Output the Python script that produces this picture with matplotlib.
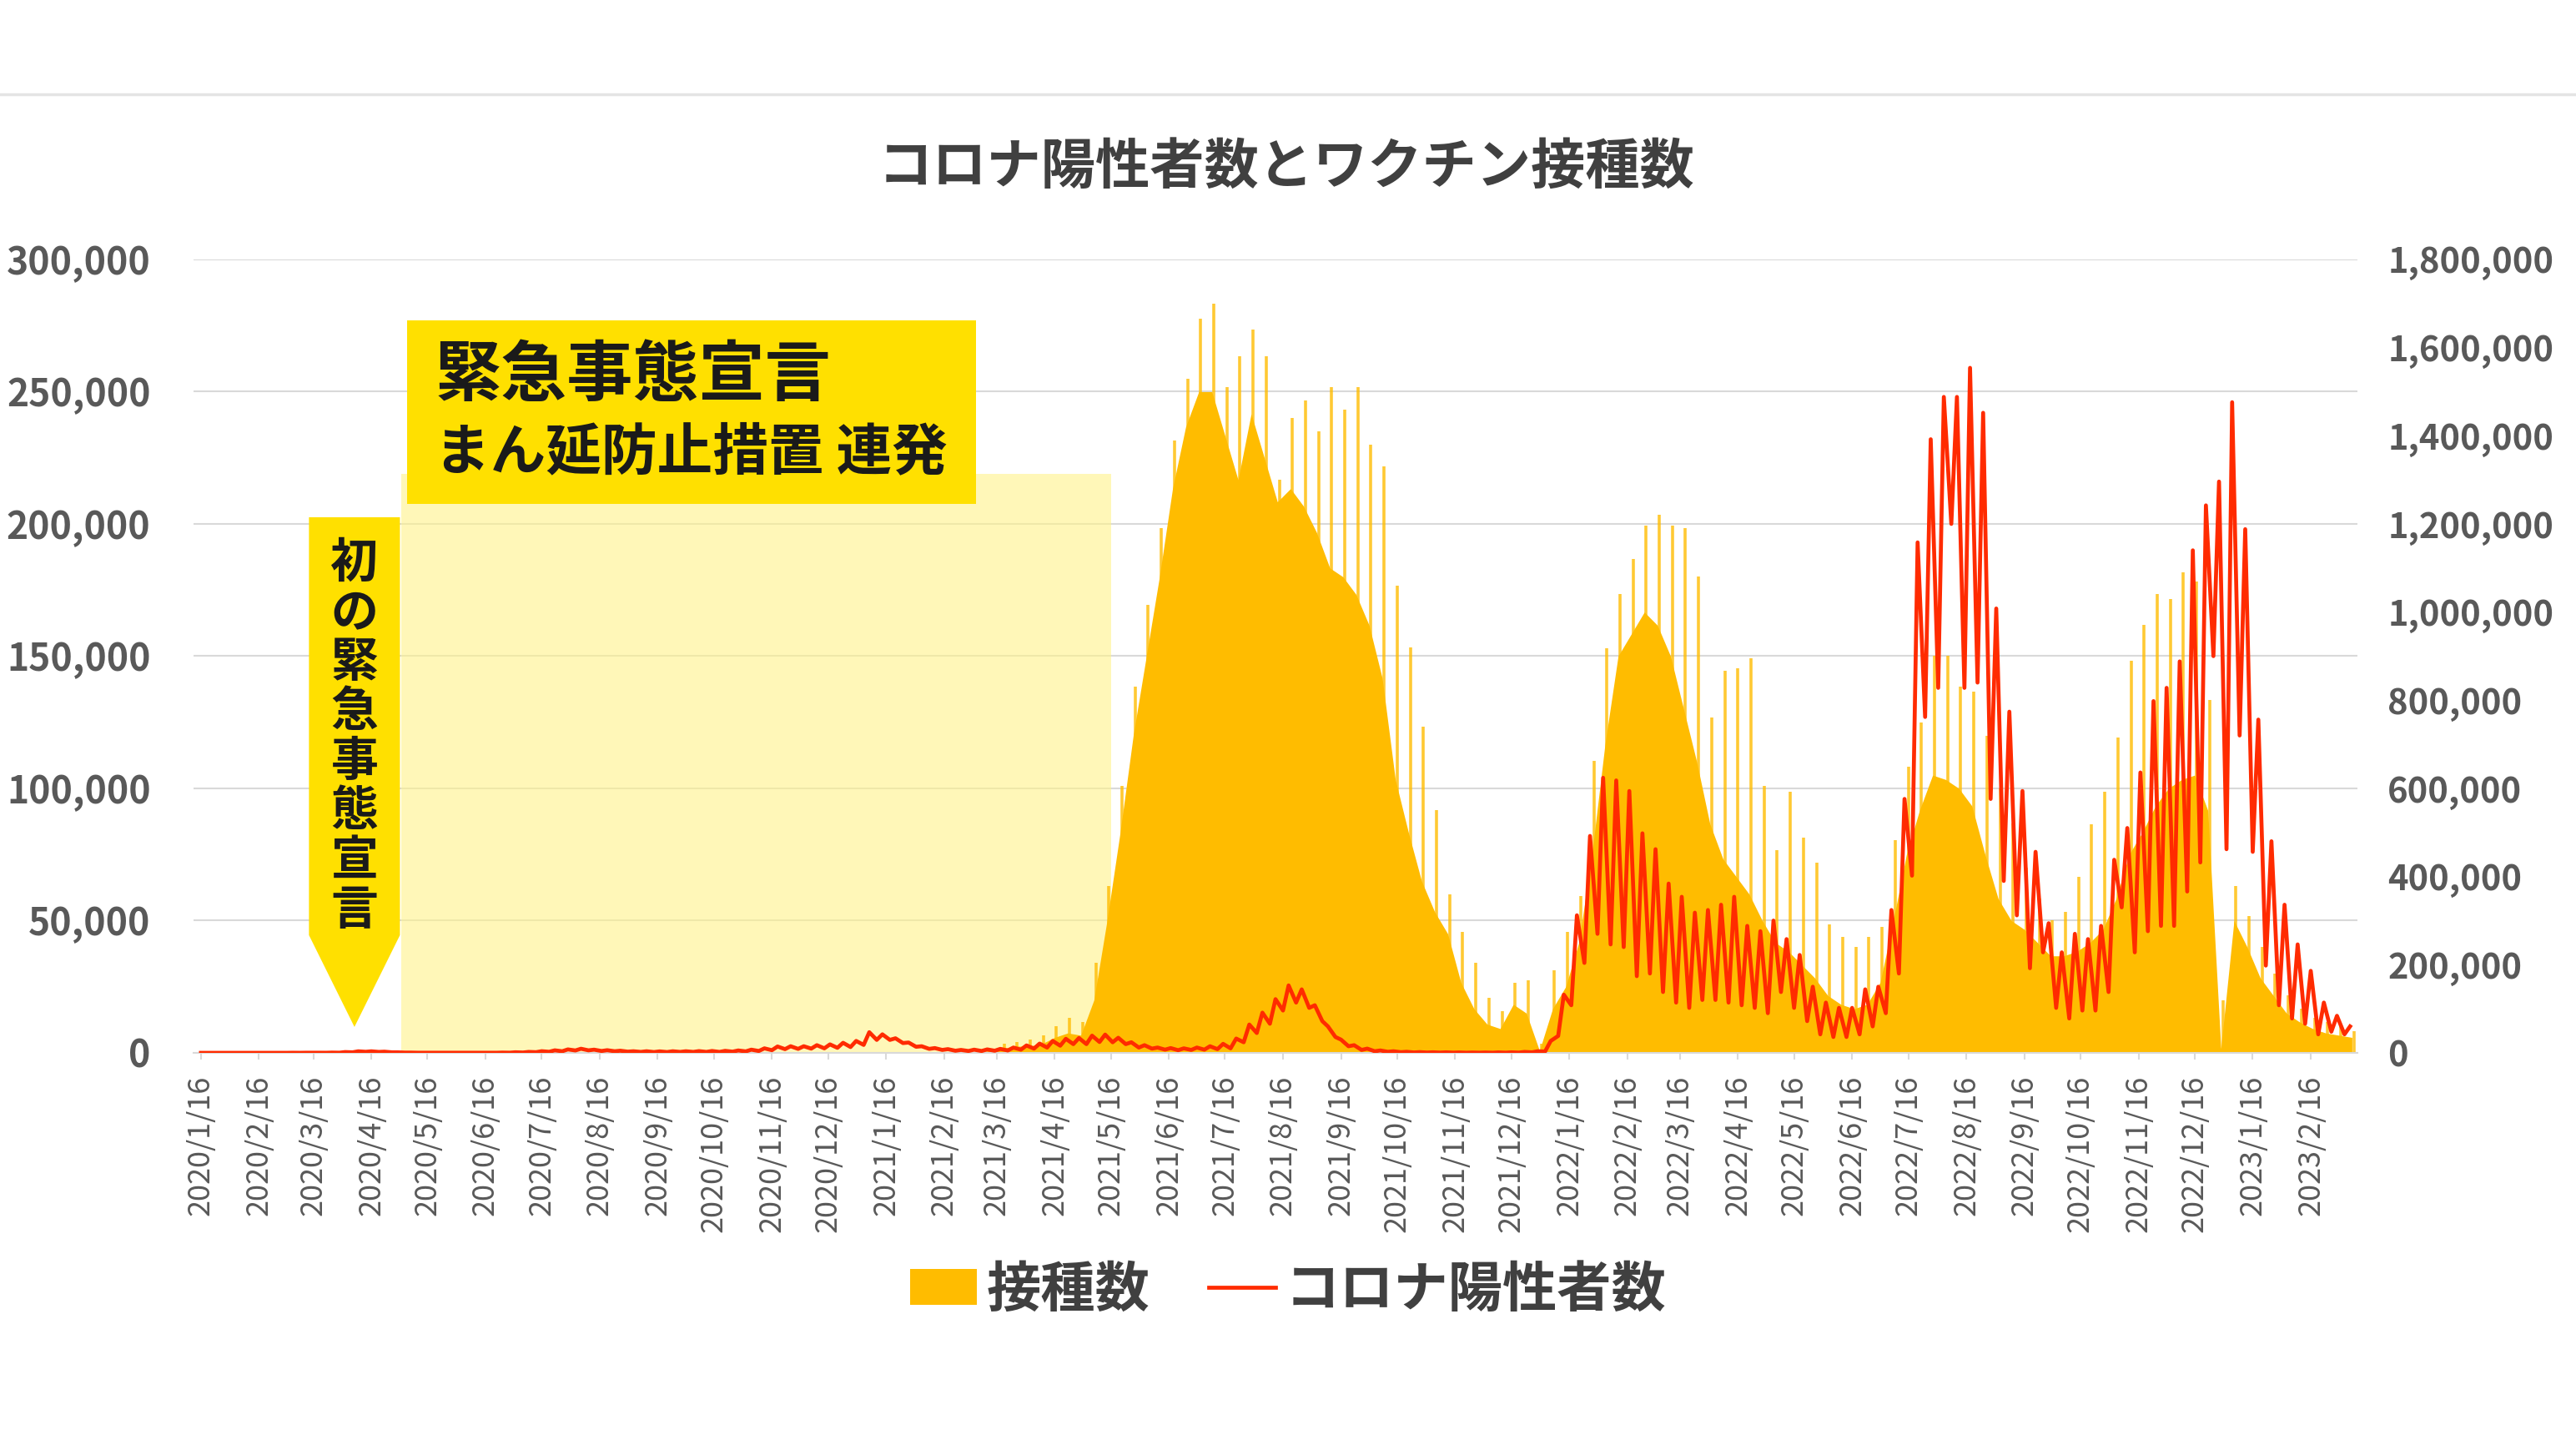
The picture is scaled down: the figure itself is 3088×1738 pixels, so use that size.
import numpy as np
import pandas as pd
import matplotlib
matplotlib.use("Agg")
import matplotlib.pyplot as plt
from matplotlib.patches import Rectangle, Polygon, Patch
from matplotlib.lines import Line2D

plt.rcParams['font.family'] = ['Noto Sans CJK JP', 'DejaVu Sans']

# ---------------------------------------------------------------- data
START = pd.Timestamp('2020-01-16')   # first day of the series (Thursday)

# new positive cases per day, in thousands: weekly high (Thu) and weekly low (Mon)
cases_hi_k = [
    0, 0, 0, 0.01, 0.01, 0.02, 0.03, 0.04, 0.05, 0.05,
    0.1, 0.3, 0.58, 0.58, 0.44, 0.2, 0.1, 0.05, 0.03, 0.04,
    0.045, 0.055, 0.06, 0.1, 0.22, 0.35, 0.62, 0.95, 1.3, 1.55,
    1.2, 1.0, 0.8, 0.6, 0.6, 0.55, 0.6, 0.6, 0.65, 0.7,
    0.75, 0.9, 1.2, 1.7, 2.4, 2.5, 2.5, 2.9, 3.2, 3.8,
    4.5, 7.8, 7.0, 5.5, 3.9, 2.5, 1.8, 1.4, 1.1, 1.2,
    1.3, 1.5, 2.0, 2.8, 3.5, 4.5, 5.3, 5.6, 6.5, 6.9,
    5.7, 4.0, 2.9, 2.0, 1.8, 1.7, 2.0, 2.5, 3.4, 5.4,
    10.7, 15.2, 20.3, 25.5, 24.0, 18.0, 10.0, 5.0, 2.9, 1.6,
    0.9, 0.6, 0.4, 0.28, 0.22, 0.2, 0.15, 0.12, 0.13, 0.17,
    0.2, 0.35, 0.6, 4.5, 22, 52, 82, 104, 103, 99,
    83, 77, 64, 59, 53, 54, 56, 59, 48, 46,
    50, 43, 37, 25, 19, 17, 17, 24, 25, 54,
    96, 193, 232, 248, 248, 259, 242, 168, 129, 99,
    76, 49, 38, 45, 43, 48, 73, 85, 106, 133,
    138, 148, 190, 207, 216, 246, 198, 126, 80, 56,
    41, 31, 19, 14, 10,
]
cases_lo_k = [
    0, 0, 0, 0, 0.005, 0.01, 0.01, 0.02, 0.03, 0.04,
    0.06, 0.2, 0.4, 0.35, 0.2, 0.1, 0.05, 0.02, 0.015, 0.02,
    0.03, 0.04, 0.04, 0.06, 0.12, 0.25, 0.4, 0.6, 0.9, 0.95,
    0.7, 0.6, 0.45, 0.35, 0.3, 0.3, 0.35, 0.35, 0.35, 0.35,
    0.45, 0.55, 0.7, 1.0, 1.4, 1.5, 1.6, 1.7, 1.9, 2.2,
    3.0, 4.9, 4.9, 3.7, 2.3, 1.5, 1.1, 0.8, 0.7, 0.7,
    0.8, 0.9, 1.2, 1.6, 2.0, 2.7, 3.3, 3.3, 4.1, 4.0,
    3.3, 2.0, 1.6, 1.2, 1.0, 1.1, 1.2, 1.4, 1.7, 4.0,
    7.5, 11.0, 16.0, 19.0, 17.0, 12.0, 6.0, 2.5, 1.1, 0.6,
    0.4, 0.25, 0.15, 0.12, 0.1, 0.08, 0.05, 0.06, 0.05, 0.07,
    0.1, 0.2, 0.5, 6.4, 18, 34, 45, 41, 40, 29,
    30, 23, 19, 17, 20, 20, 19, 18, 17, 15,
    23, 17, 12, 7, 6, 6, 7, 10, 15, 30,
    67, 127, 138, 200, 138, 140, 96, 65, 52, 32,
    38, 17, 13, 16, 16, 23, 55, 38, 46, 48,
    48, 61, 72, 150, 77, 120, 76, 33, 18, 13,
    11, 7, 8, 7,
]

# vaccinations per day, in thousands, weekly from 2021/3/4:
# the dense weekday level and the one-day spike of that week
VAX_START = pd.Timestamp('2021-03-04')
vax_body_k = [
    0, 5, 10, 15, 15, 20, 35, 45, 40, 120,
    300, 500, 720, 900, 1080, 1280, 1420, 1500, 1500, 1400,
    1300, 1450, 1350, 1250, 1280, 1240, 1180, 1100, 1080, 1040,
    970, 850, 620, 500, 390, 320, 270, 160, 100, 65,
    55, 110, 90, 5, 100, 150, 250, 450, 700, 900,
    950, 1000, 970, 900, 780, 660, 520, 440, 400, 360,
    300, 250, 230, 200, 170, 130, 110, 100, 110, 160,
    300, 450, 550, 630, 620, 600, 560, 450, 350, 300,
    280, 250, 220, 220, 230, 250, 280, 350, 450, 500,
    560, 600, 620, 630, 550, 10, 300, 240, 170, 130,
    90, 70, 55, 45, 40, 35,
]
vax_spike_k = [
    0, 10, 20, 25, 30, 40, 60, 80, 70, 205,
    379, 605, 831, 1016, 1190, 1390, 1530, 1665, 1700, 1510,
    1580, 1640, 1580, 1300, 1440, 1480, 1410, 1510, 1460, 1510,
    1380, 1330, 1060, 920, 740, 550, 360, 275, 205, 124,
    95, 159, 165, 20, 188, 275, 356, 663, 918, 1040,
    1120, 1196, 1220, 1196, 1190, 1080, 760, 866, 872, 895,
    605, 460, 593, 489, 431, 292, 263, 240, 263, 286,
    483, 650, 750, 900, 900, 830, 820, 720, 600, 520,
    420, 350, 300, 320, 400, 518, 593, 715, 890, 970,
    1040, 1030, 1090, 1070, 800, 120, 379, 310, 240, 180,
    130, 100, 80, 70, 60, 50,
]

# annotation dates
FIRST_DECL = pd.Timestamp('2020-04-07')
BAND_START = pd.Timestamp('2020-05-02')
BAND_END = pd.Timestamp('2021-05-16')

TITLE = 'コロナ陽性者数とワクチン接種数'
LEGEND_LABELS = ['接種数', 'コロナ陽性者数']

YELLOW = '#FFBC00'
RED = '#FF2B00'
GRID = '#D9D9D9'
TXT = '#595959'


def day(ts):
    return (pd.Timestamp(ts) - START).days


# ---------------------------------------------------------------- series
hi = np.array(cases_hi_k) * 1000
lo = np.array(cases_lo_k) * 1000
case_x = np.empty(len(hi) + len(lo))
case_y = np.empty(len(hi) + len(lo))
case_x[0::2] = 7 * np.arange(len(hi))
case_y[0::2] = hi
case_x[1::2] = 7 * np.arange(len(lo)) + 4
case_y[1::2] = lo

v0 = day(VAX_START)
body = np.array(vax_body_k) * 1000
spike = np.array(vax_spike_k) * 1000
body_x = v0 + 7 * np.arange(len(body)) + 1
spike_x = v0 + 7 * np.arange(len(spike)) + 2

# ---------------------------------------------------------------- figure
fig = plt.figure(figsize=(30.88, 17.38), dpi=100)
fig.patch.set_facecolor('white')
ax = fig.add_axes([0.0751, 0.2739, 0.8401, 0.5472])
ax2 = ax.twinx()

ax.set_xlim(-4, 1152)
ax.set_ylim(0, 300000)
ax2.set_ylim(0, 1800000)

ax.grid(axis='y', color=GRID, lw=1.5)
ax.set_axisbelow(True)

# background band of repeated declarations
ax.add_patch(Rectangle((day(BAND_START), 0), day(BAND_END) - day(BAND_START), 219000,
                       facecolor='#FFF38A', alpha=0.6, edgecolor='none', zorder=0.8))

# vaccinations (right scale)
ax.fill_between(body_x, body, 0, color=YELLOW, lw=0, zorder=2,
                transform=ax2.transData)
ax.vlines(spike_x, 0, spike, color=YELLOW, lw=2.6, alpha=0.8, zorder=2,
          transform=ax2.transData)

# positive cases (left scale)
ax.plot(case_x, case_y, color=RED, lw=3.4, zorder=3, solid_joinstyle='round')

# ---------------------------------------------------------------- axes
ticks = pd.date_range('2020-01-01', '2023-02-01', freq='MS') + pd.Timedelta(days=15)
ax.set_xticks([day(t) for t in ticks])
ax.set_xticklabels([f'{t.year}/{t.month}/{t.day}' for t in ticks], rotation=90,
                   fontsize=26, color=TXT)
ax.tick_params(axis='x', length=6, width=1.5, color=GRID, pad=13)

yt = np.arange(0, 300001, 50000)
ax.set_yticks(yt)
ax.set_yticklabels([f'{v:,}' for v in yt], fontsize=32, fontweight='bold', color=TXT)
ax.tick_params(axis='y', length=0, pad=37)

yt2 = np.arange(0, 1800001, 200000)
ax2.set_yticks(yt2)
ax2.set_yticklabels([f'{v:,}' for v in yt2], fontsize=30, fontweight='bold', color=TXT)
ax2.tick_params(axis='y', length=0, pad=26)

for a in (ax, ax2):
    for s in ('left', 'right', 'top'):
        a.spines[s].set_visible(False)
ax2.spines['bottom'].set_visible(False)
ax.spines['bottom'].set_color(GRID)
ax.spines['bottom'].set_linewidth(1.5)

# ---------------------------------------------------------------- annotations
tip = day(FIRST_DECL)
half = 24.3
ax.add_patch(Polygon([(tip - half, 202500), (tip + half, 202500), (tip + half, 44500),
                      (tip, 9800), (tip - half, 44500)],
                     closed=True, facecolor='#FFE000', edgecolor='none', zorder=4))
for i, ch in enumerate('初の緊急事態宣言'):
    ax.text(tip, 185300 - i * 18770, ch, ha='center', va='center', fontsize=41,
            fontweight='bold', color='#1A1A1A', zorder=5)

ax.add_patch(Rectangle((110.3, 207700), 413.8 - 110.3, 277000 - 207700,
                       facecolor='#FFE000', edgecolor='none', zorder=4))
ax.text(125, 256000, '緊急事態宣言', ha='left', va='center', fontsize=57,
        fontweight='bold', color='#1A1A1A', zorder=5)
ax.text(125, 226800, 'まん延防止措置 連発', ha='left', va='center', fontsize=48,
        fontweight='bold', color='#1A1A1A', zorder=5)

# ---------------------------------------------------------------- title, legend
fig.text(0.4994, 0.8849, TITLE, ha='center', va='center', fontsize=47,
         fontweight='bold', color='#404040')

handles = [Patch(facecolor=YELLOW, edgecolor='none'),
           Line2D([], [], color=RED, lw=3.4)]
fig.legend(handles, LEGEND_LABELS, loc='center', bbox_to_anchor=(0.5, 0.1105), ncol=2,
           frameon=False, prop={'size': 47, 'weight': 'bold'}, labelcolor='#404040',
           handlelength=1.23, handleheight=0.62, handletextpad=0.17, columnspacing=1.09)

fig.add_artist(Line2D([0, 1], [1 - 113 / 1738] * 2, transform=fig.transFigure,
                      color='#E4E4E4', lw=2.5))

fig.savefig('out.png', dpi=100, facecolor='white')
